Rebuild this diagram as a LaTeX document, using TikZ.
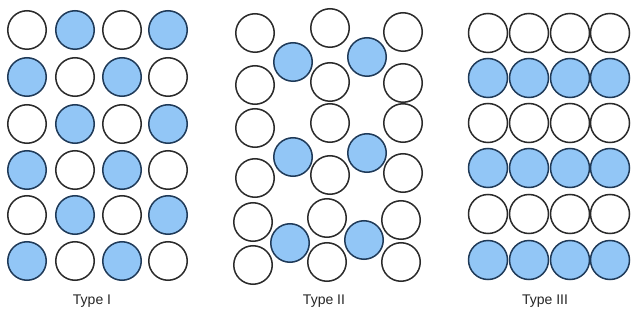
\documentclass[tikz,border=0pt]{standalone}
\usepackage{fontspec}
\setmainfont{Liberation Sans}
\definecolor{ballfill}{HTML}{92C6F6}
\definecolor{balledge}{HTML}{1F3A58}
\definecolor{ringedge}{HTML}{2A2A2A}
\begin{document}
\begin{tikzpicture}[x=1pt,y=-1pt,
  ring/.style={circle,draw=ringedge,line width=1.5pt,fill=white,minimum size=38.5pt,inner sep=0pt},
  ball/.style={circle,draw=balledge,line width=1.5pt,fill=ballfill,minimum size=38.5pt,inner sep=0pt},
  caption/.style={font=\fontsize{14}{16}\selectfont,inner sep=0pt,text=black!85}]
\useasboundingbox[fill=white] (0,0) rectangle (631,323);

% Type I: checkerboard of 4 columns x 6 rows
\foreach \r/\y in {1/30,2/77,3/124,4/170,5/215,6/261}{
  \foreach \c/\x in {1/27,2/75,3/122,4/168}{
    \pgfmathtruncatemacro{\parity}{mod(\r+\c,2)}
    \ifnum\parity=1
      \node[ball] (a-\r-\c) at (\x,\y) {};
    \else
      \node[ring] (a-\r-\c) at (\x,\y) {};
    \fi
  }
}
\node[caption] (capI) at (92,301) {Type I};

% Type II: three groups, each with two rows of rings and two balls between
\foreach \g/\ta/\tb/\tc/\la/\lb/\lc/\ba/\bb/\xa/\xb/\xc/\xd/\xe in {
  1/33/28/32/85/82/83/62/57/255/293/330/367/403,
  2/128/123/123/178/175/173/157/153/255/293/330/367/403,
  3/222/218/220/265/262/262/243/240/253/290/327/364/401}{
  \node[ring] (b-\g-t1) at (\xa,\ta) {};
  \node[ring] (b-\g-t2) at (\xc,\tb) {};
  \node[ring] (b-\g-t3) at (\xe,\tc) {};
  \node[ring] (b-\g-l1) at (\xa,\la) {};
  \node[ring] (b-\g-l2) at (\xc,\lb) {};
  \node[ring] (b-\g-l3) at (\xe,\lc) {};
  \node[ball] (b-\g-m1) at (\xb,\ba) {};
  \node[ball] (b-\g-m2) at (\xd,\bb) {};
}
\node[caption] (capII) at (324,301) {Type II};

% Type III: alternating rows of rings and balls
\foreach \r/\y in {1/33,2/78,3/123,4/168,5/214,6/260}{
  \foreach \c/\x in {1/488,2/529,3/570,4/610}{
    \pgfmathtruncatemacro{\parity}{mod(\r,2)}
    \ifnum\parity=0
      \node[ball,minimum size=39pt] (c-\r-\c) at (\x,\y) {};
    \else
      \node[ring,minimum size=39pt] (c-\r-\c) at (\x,\y) {};
    \fi
  }
}
\node[caption] (capIII) at (545,301) {Type III};
\end{tikzpicture}
\end{document}
